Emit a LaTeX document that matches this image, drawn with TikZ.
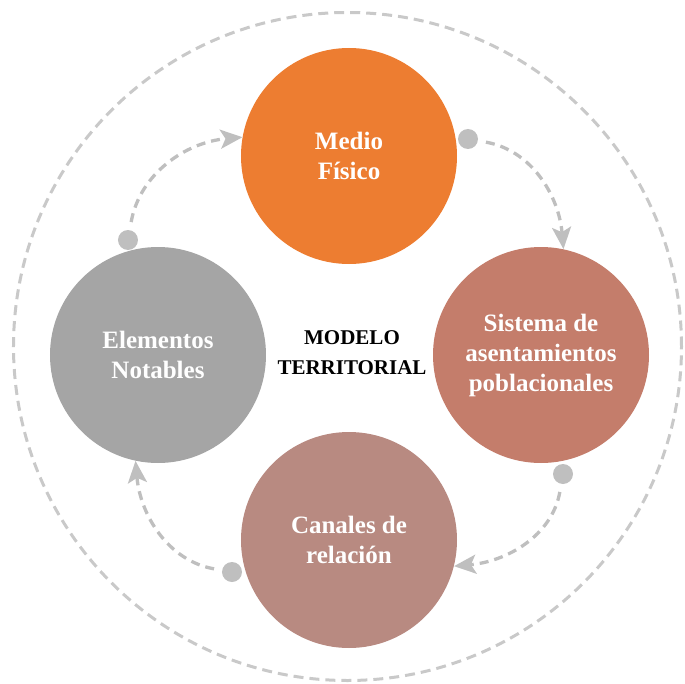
\documentclass[tikz,border=0pt]{standalone}
\usepackage{fontspec}
\setmainfont{Liberation Serif}
\usetikzlibrary{arrows.meta}
\definecolor{medioC}{HTML}{ED7D31}
\definecolor{sistemaC}{HTML}{C47D6B}
\definecolor{canalesC}{HTML}{B88A81}
\definecolor{notablesC}{HTML}{A5A5A5}
\definecolor{dotC}{HTML}{BFBFBF}
\definecolor{ringC}{HTML}{C9C9C9}
\begin{document}
\begin{tikzpicture}[x=1pt, y=1pt,
  circ/.style={circle, minimum size=216pt, inner sep=0pt, text=white, align=center,
    font=\bfseries\fontsize{25}{30}\selectfont},
  dot/.style={circle, fill=dotC, minimum size=20pt, inner sep=0pt},
  flow/.style={draw=dotC, line width=3.3pt, dash pattern=on 9pt off 6pt,
    -{Stealth[length=22pt, width=19pt, inset=5pt]}, shorten <=8pt}]
\useasboundingbox (-349,-333) rectangle (336,350);
\draw[ringC, line width=3pt, dash pattern=on 10pt off 6pt] (-1.5,3.5) circle (334);
\node[circ, fill=medioC] (medio) at (0,194) {Medio\\Físico};
\node[circ, fill=sistemaC] (sistema) at (192,-5) {Sistema de\\asentamientos\\poblacionales};
\node[circ, fill=canalesC] (canales) at (0,-190) {Canales de\\relación};
\node[circ, fill=notablesC] (notables) at (-191,-5) {Elementos\\Notables};
\node[align=center, font=\bfseries\fontsize{21}{30}\selectfont] (modelo) at (3,-3) {MODELO\\TERRITORIAL};
\node[dot] (d1) at (119,211) {};
\node[dot] (d2) at (214,-124) {};
\node[dot] (d3) at (-117,-222) {};
\node[dot] (d4) at (-221,110) {};
\draw[flow] (d1) to[out=-10, in=95] (sistema.78);
\draw[flow] (d2) to[out=-100, in=5] (canales.-14);
\draw[flow] (d3) to[out=170, in=-85] (notables.-102);
\draw[flow] (d4) to[out=80, in=-175] (medio.170);
\end{tikzpicture}
\end{document}
